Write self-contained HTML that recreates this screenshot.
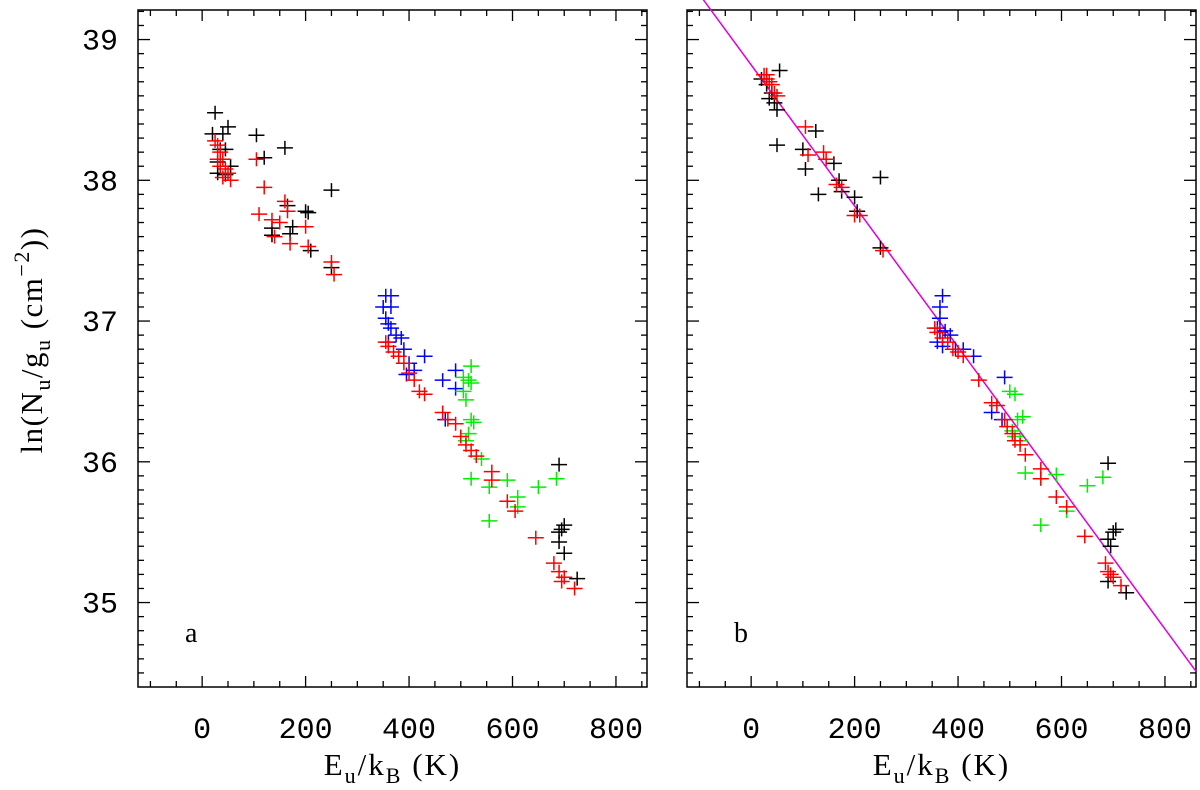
<!DOCTYPE html>
<html><head><meta charset="utf-8"><style>
body{margin:0;background:#fff;}
svg text{font-family:"Liberation Serif","DejaVu Serif",serif;fill:#000;}
svg text.num{font-family:"Liberation Mono","DejaVu Sans Mono",monospace;}
</style></head><body>
<svg id="chart" width="1200" height="785" viewBox="0 0 1200 785" xmlns="http://www.w3.org/2000/svg">
<text transform="translate(42,340) rotate(-90)" text-anchor="middle" font-size="31" letter-spacing="1.5">ln(N<tspan font-size="22" dy="8">u</tspan><tspan dy="-8">/g</tspan><tspan font-size="22" dy="8">u</tspan><tspan dy="-8"> (cm</tspan><tspan font-size="22" dy="-13">−2</tspan><tspan dy="13">))</tspan></text>
</svg>
<script>
const xTicks=[0,200,400,600,800];
const yTicks=[35,36,37,38,39];
const fitSlope=-0.00501, fitIntercept=38.82;
const aBlack=[[25,38.48],[20,38.33],[40,38.33],[50,38.38],[35,38.22],[45,38.22],[30,38.13],[55,38.1],[30,38.05],[45,38.04],[105,38.32],[120,38.16],[160,38.23],[250,37.93],[165,37.82],[200,37.78],[205,37.77],[135,37.66],[135,37.61],[175,37.67],[170,37.62],[210,37.5],[250,37.38],[690,35.98],[690,35.5],[695,35.52],[700,35.55],[690,35.43],[700,35.35],[725,35.17]];
const aRed=[[25,38.28],[30,38.25],[35,38.2],[30,38.15],[40,38.15],[35,38.1],[45,38.08],[50,38.05],[55,38.0],[40,38.02],[105,38.15],[120,37.95],[110,37.76],[160,37.85],[165,37.78],[135,37.72],[150,37.7],[140,37.6],[200,37.67],[170,37.55],[205,37.53],[250,37.42],[255,37.33],[355,36.85],[360,36.82],[370,36.78],[380,36.75],[390,36.7],[400,36.63],[410,36.58],[420,36.5],[430,36.48],[465,36.35],[475,36.3],[490,36.27],[500,36.18],[510,36.12],[520,36.08],[530,36.04],[560,35.93],[560,35.87],[590,35.72],[605,35.65],[645,35.46],[680,35.28],[690,35.22],[700,35.18],[695,35.15],[720,35.1]];
const aBlue=[[355,37.18],[365,37.18],[350,37.1],[365,37.1],[355,37.02],[360,36.98],[365,36.95],[375,36.9],[385,36.88],[360,36.85],[390,36.8],[430,36.75],[400,36.7],[410,36.65],[395,36.62],[465,36.58],[490,36.65],[490,36.52],[470,36.3]];
const aGreen=[[520,36.68],[505,36.6],[515,36.58],[520,36.56],[505,36.5],[510,36.44],[520,36.3],[525,36.28],[515,36.2],[510,36.15],[540,36.02],[520,35.88],[555,35.82],[590,35.87],[610,35.75],[650,35.82],[685,35.88],[555,35.58],[610,35.68]];
const bBlack=[[20,38.72],[30,38.68],[40,38.62],[35,38.58],[45,38.55],[50,38.5],[55,38.78],[50,38.25],[100,38.22],[105,38.08],[125,38.35],[130,37.9],[160,38.12],[170,38.0],[175,37.92],[200,37.88],[205,37.78],[250,38.02],[250,37.52],[690,35.99],[690,35.45],[695,35.4],[700,35.5],[705,35.52],[690,35.15],[725,35.07]];
const bRed=[[25,38.75],[30,38.72],[35,38.7],[40,38.68],[45,38.62],[50,38.6],[30,38.75],[105,38.38],[110,38.18],[140,38.2],[145,38.15],[165,37.97],[175,37.95],[200,37.75],[210,37.75],[255,37.5],[355,36.95],[360,36.92],[370,36.88],[380,36.85],[390,36.8],[400,36.78],[410,36.75],[440,36.58],[465,36.42],[475,36.4],[490,36.3],[495,36.25],[505,36.2],[510,36.15],[520,36.12],[530,36.05],[560,35.95],[560,35.88],[590,35.75],[610,35.68],[645,35.47],[685,35.28],[690,35.22],[695,35.2],[700,35.18],[715,35.12]];
const bBlue=[[370,37.18],[365,37.1],[365,37.02],[360,36.95],[365,36.92],[375,36.93],[385,36.9],[360,36.85],[370,36.82],[395,36.8],[410,36.8],[430,36.75],[490,36.6],[465,36.35],[485,36.3]];
const bGreen=[[500,36.5],[510,36.48],[515,36.3],[525,36.32],[505,36.22],[510,36.18],[520,36.15],[530,35.92],[560,35.88],[590,35.91],[650,35.83],[680,35.89],[560,35.55],[610,35.65]];

const svg=document.getElementById('chart');
const NS='http://www.w3.org/2000/svg';
function mk(tag,attrs,parent){const e=document.createElementNS(NS,tag);for(const k in attrs)e.setAttribute(k,attrs[k]);(parent||svg).appendChild(e);return e;}
const X0=-124,X1=860,Y0=34.4,Y1=39.21,TOP=10,BOT=687;
function panel(left,right,name,label,showY,sets,fit){
  const g=mk('g',{});
  
  
  const sx=v=>left+(v-X0)/(X1-X0)*(right-left);
  const sy=v=>BOT-(v-Y0)/(Y1-Y0)*(BOT-TOP);
  const frame=mk('rect',{x:left,y:TOP,width:right-left,height:BOT-TOP,fill:'none',stroke:'#000','stroke-width':1.5},g);
  
  
  for(let v=-100;v<=850;v+=50){const x=sx(v);const L=(v%200===0)?11:6;
    mk('line',{x1:x,x2:x,y1:BOT,y2:BOT-L,stroke:'#000','stroke-width':1.3},g);
    mk('line',{x1:x,x2:x,y1:TOP,y2:TOP+L,stroke:'#000','stroke-width':1.3},g);}
  for(let i=0;i<xTicks.length;i++){const t=mk('text',{x:sx(xTicks[i]),y:738,'text-anchor':'middle','font-size':30,'class':'num'},g);t.textContent=xTicks[i];
    
    }
  for(let k=345;k<=392;k++){const v=k/10;const y=sy(v);const L=(k%10===0)?12:6;
    mk('line',{x1:left,x2:left+L,y1:y,y2:y,stroke:'#000','stroke-width':1.3},g);
    mk('line',{x1:right,x2:right-L,y1:y,y2:y,stroke:'#000','stroke-width':1.3},g);}
  if(showY)for(let i=0;i<yTicks.length;i++){const t=mk('text',{x:left-20,y:sy(yTicks[i])+10,'text-anchor':'end','font-size':30,'class':'num'},g);t.textContent=yTicks[i];
    
    }
  const xt=mk('text',{x:(left+right)/2,y:775,'text-anchor':'middle','font-size':31,'letter-spacing':2},g);
  
  
  xt.innerHTML='E<tspan font-size="22" dy="8">u</tspan><tspan dy="-8">/k</tspan><tspan font-size="22" dy="8">B</tspan><tspan dy="-8"> (K)</tspan>';
  const pl=mk('text',{x:left+47,y:642,'font-size':28},g);pl.textContent=label;
  
  
  if(fit){const ln=mk('line',{x1:sx(X0),y1:sy(fit[1]+fit[0]*X0),x2:sx(X1),y2:sy(fit[1]+fit[0]*X1),stroke:'#e000e0','stroke-width':1.5},g);
    
    }
  for(const s of sets){for(const p of s.d){const x=sx(p[0]),y=sy(p[1]);
    const c=mk('path',{d:`M${x-8},${y}H${x+8}M${x},${y-7}V${y+7}`,stroke:s.c,'stroke-width':1.5,fill:'none'},g);
    
    }}
}
panel(138,647,'panel-a','a',true,[{d:aBlack,c:'#000',n:'black'},{d:aBlue,c:'#0000ff',n:'blue'},{d:aGreen,c:'#00ee00',n:'green'},{d:aRed,c:'#ff0000',n:'red'}],null);
panel(687,1196,'panel-b','b',false,[{d:bBlack,c:'#000',n:'black'},{d:bBlue,c:'#0000ff',n:'blue'},{d:bGreen,c:'#00ee00',n:'green'},{d:bRed,c:'#ff0000',n:'red'}],[fitSlope,fitIntercept]);
</script>
</body></html>
